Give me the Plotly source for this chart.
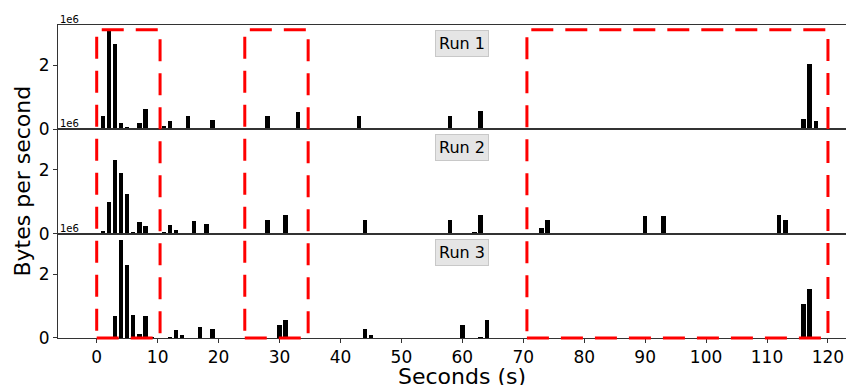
import plotly.graph_objects as go
from plotly.subplots import make_subplots

# ---- data (bytes per second) ----
run1_t = [0, 1, 2, 3, 4, 5, 6, 7, 8, 9, 10, 11, 12, 13, 15, 19, 28, 33, 43, 58, 61, 62, 63, 73, 116, 117, 118]
run1_v = [0.03e6, 0.41e6, 3.10e6, 2.67e6, 0.21e6, 0.06e6, 0.05e6, 0.20e6, 0.63e6, 0.03e6, 0.05e6, 0.11e6,
          0.26e6, 0.03e6, 0.41e6, 0.30e6, 0.41e6, 0.55e6, 0.42e6, 0.41e6, 0.02e6, 0.02e6, 0.59e6, 0.02e6,
          0.33e6, 2.04e6, 0.25e6]

run2_t = [1, 2, 3, 4, 5, 6, 7, 8, 11, 12, 13, 16, 18, 28, 31, 44, 58, 62, 63, 73, 74, 90, 93, 112, 113]
run2_v = [0.06e6, 0.99e6, 2.31e6, 1.89e6, 1.23e6, 0.03e6, 0.35e6, 0.23e6, 0.05e6, 0.25e6, 0.10e6, 0.39e6,
          0.30e6, 0.42e6, 0.58e6, 0.42e6, 0.41e6, 0.02e6, 0.59e6, 0.16e6, 0.41e6, 0.54e6, 0.54e6, 0.58e6,
          0.43e6]

run3_t = [2, 3, 4, 5, 6, 7, 8, 9, 12, 13, 14, 17, 19, 30, 31, 44, 45, 60, 63, 64, 67, 116, 117]
run3_v = [0.03e6, 0.71e6, 3.07e6, 2.30e6, 0.73e6, 0.15e6, 0.69e6, 0.05e6, 0.03e6, 0.27e6, 0.09e6, 0.36e6,
          0.29e6, 0.41e6, 0.57e6, 0.30e6, 0.09e6, 0.41e6, 0.03e6, 0.58e6, 0.01e6, 1.09e6, 1.54e6]

run_labels = ["Run 1", "Run 2", "Run 3"]
highlight_windows = [(0, 10.4), (24.3, 34.7), (70.6, 120)]

x_ticks = list(range(0, 121, 10))
y_tickvals = [0, 2e6]
y_ticktext = ["0", "2"]
y_max = 3.27e6
x_range = [-6.35, 122.96]

FONT = "DejaVu Sans"
AX = "#333333"

fig = make_subplots(rows=3, cols=1, shared_xaxes=True, vertical_spacing=0)

runs = [(run1_t, run1_v), (run2_t, run2_v), (run3_t, run3_v)]
for i, (t, v) in enumerate(runs, start=1):
    fig.add_trace(go.Bar(x=t, y=v, width=0.72, marker=dict(color="black", line=dict(width=0)),
                         showlegend=False, hoverinfo="x+y"), row=i, col=1)
    fig.update_yaxes(range=[0, y_max], tickvals=y_tickvals, ticktext=y_ticktext,
                     showgrid=False, zeroline=False, showline=True, linecolor=AX, linewidth=1,
                     ticks="outside", ticklen=4, tickcolor=AX, mirror=False, automargin=False,
                     tickfont=dict(size=17, family=FONT, color="black"), row=i, col=1)
    fig.update_xaxes(range=x_range, tickvals=x_ticks, showgrid=False, zeroline=False,
                     showline=True, linecolor=AX, linewidth=1, mirror=True, automargin=False,
                     ticks="outside" if i == 3 else "", ticklen=4, tickcolor=AX,
                     showticklabels=(i == 3),
                     tickfont=dict(size=17, family=FONT, color="black"), row=i, col=1)
    yref_dom = "y domain" if i == 1 else f"y{i} domain"
    xref = "x" if i == 1 else f"x{i}"
    # run label box
    fig.add_annotation(x=60, y=0.952, xref=xref, yref=yref_dom, text=run_labels[i - 1],
                       showarrow=False, xanchor="center", yanchor="top",
                       font=dict(size=16, family=FONT, color="black"),
                       bgcolor="#e5e5e5", bordercolor="#c8c8c8", borderwidth=1, borderpad=3)
    # offset label
    fig.add_annotation(x=0, y=1.0, xref="paper", yref=yref_dom, text="1e6", showarrow=False,
                       xanchor="left", yanchor="bottom", yshift=-2,
                       font=dict(size=10, family=FONT, color="black"))

for (x0, x1) in highlight_windows:
    fig.add_shape(type="rect", xref="x3", yref="paper", x0=x0, x1=x1, y0=0, y1=0.985,
                  line=dict(color="#ff0000", width=3, dash="22px,12px"), fillcolor="rgba(0,0,0,0)",
                  layer="above")

fig.add_annotation(x=0, y=0.5, xref="paper", yref="paper", text="Bytes per second",
                   textangle=-90, showarrow=False, xanchor="center", yanchor="middle",
                   xshift=-36, font=dict(size=22, family=FONT, color="black"))
fig.add_annotation(x=60, y=0, xref="x3", yref="paper", text="Seconds (s)",
                   showarrow=False, xanchor="center", yanchor="middle",
                   yshift=-38, font=dict(size=22, family=FONT, color="black"))

fig.update_layout(width=846, height=385, margin=dict(l=58, r=0, t=25, b=47, autoexpand=False),
                  plot_bgcolor="white", paper_bgcolor="white", bargap=0,
                  font=dict(family=FONT, color="black"))

fig.write_html("out.html", config={"displayModeBar": False},
               post_script="document.body.style.margin='0';document.body.style.overflow='hidden';")
